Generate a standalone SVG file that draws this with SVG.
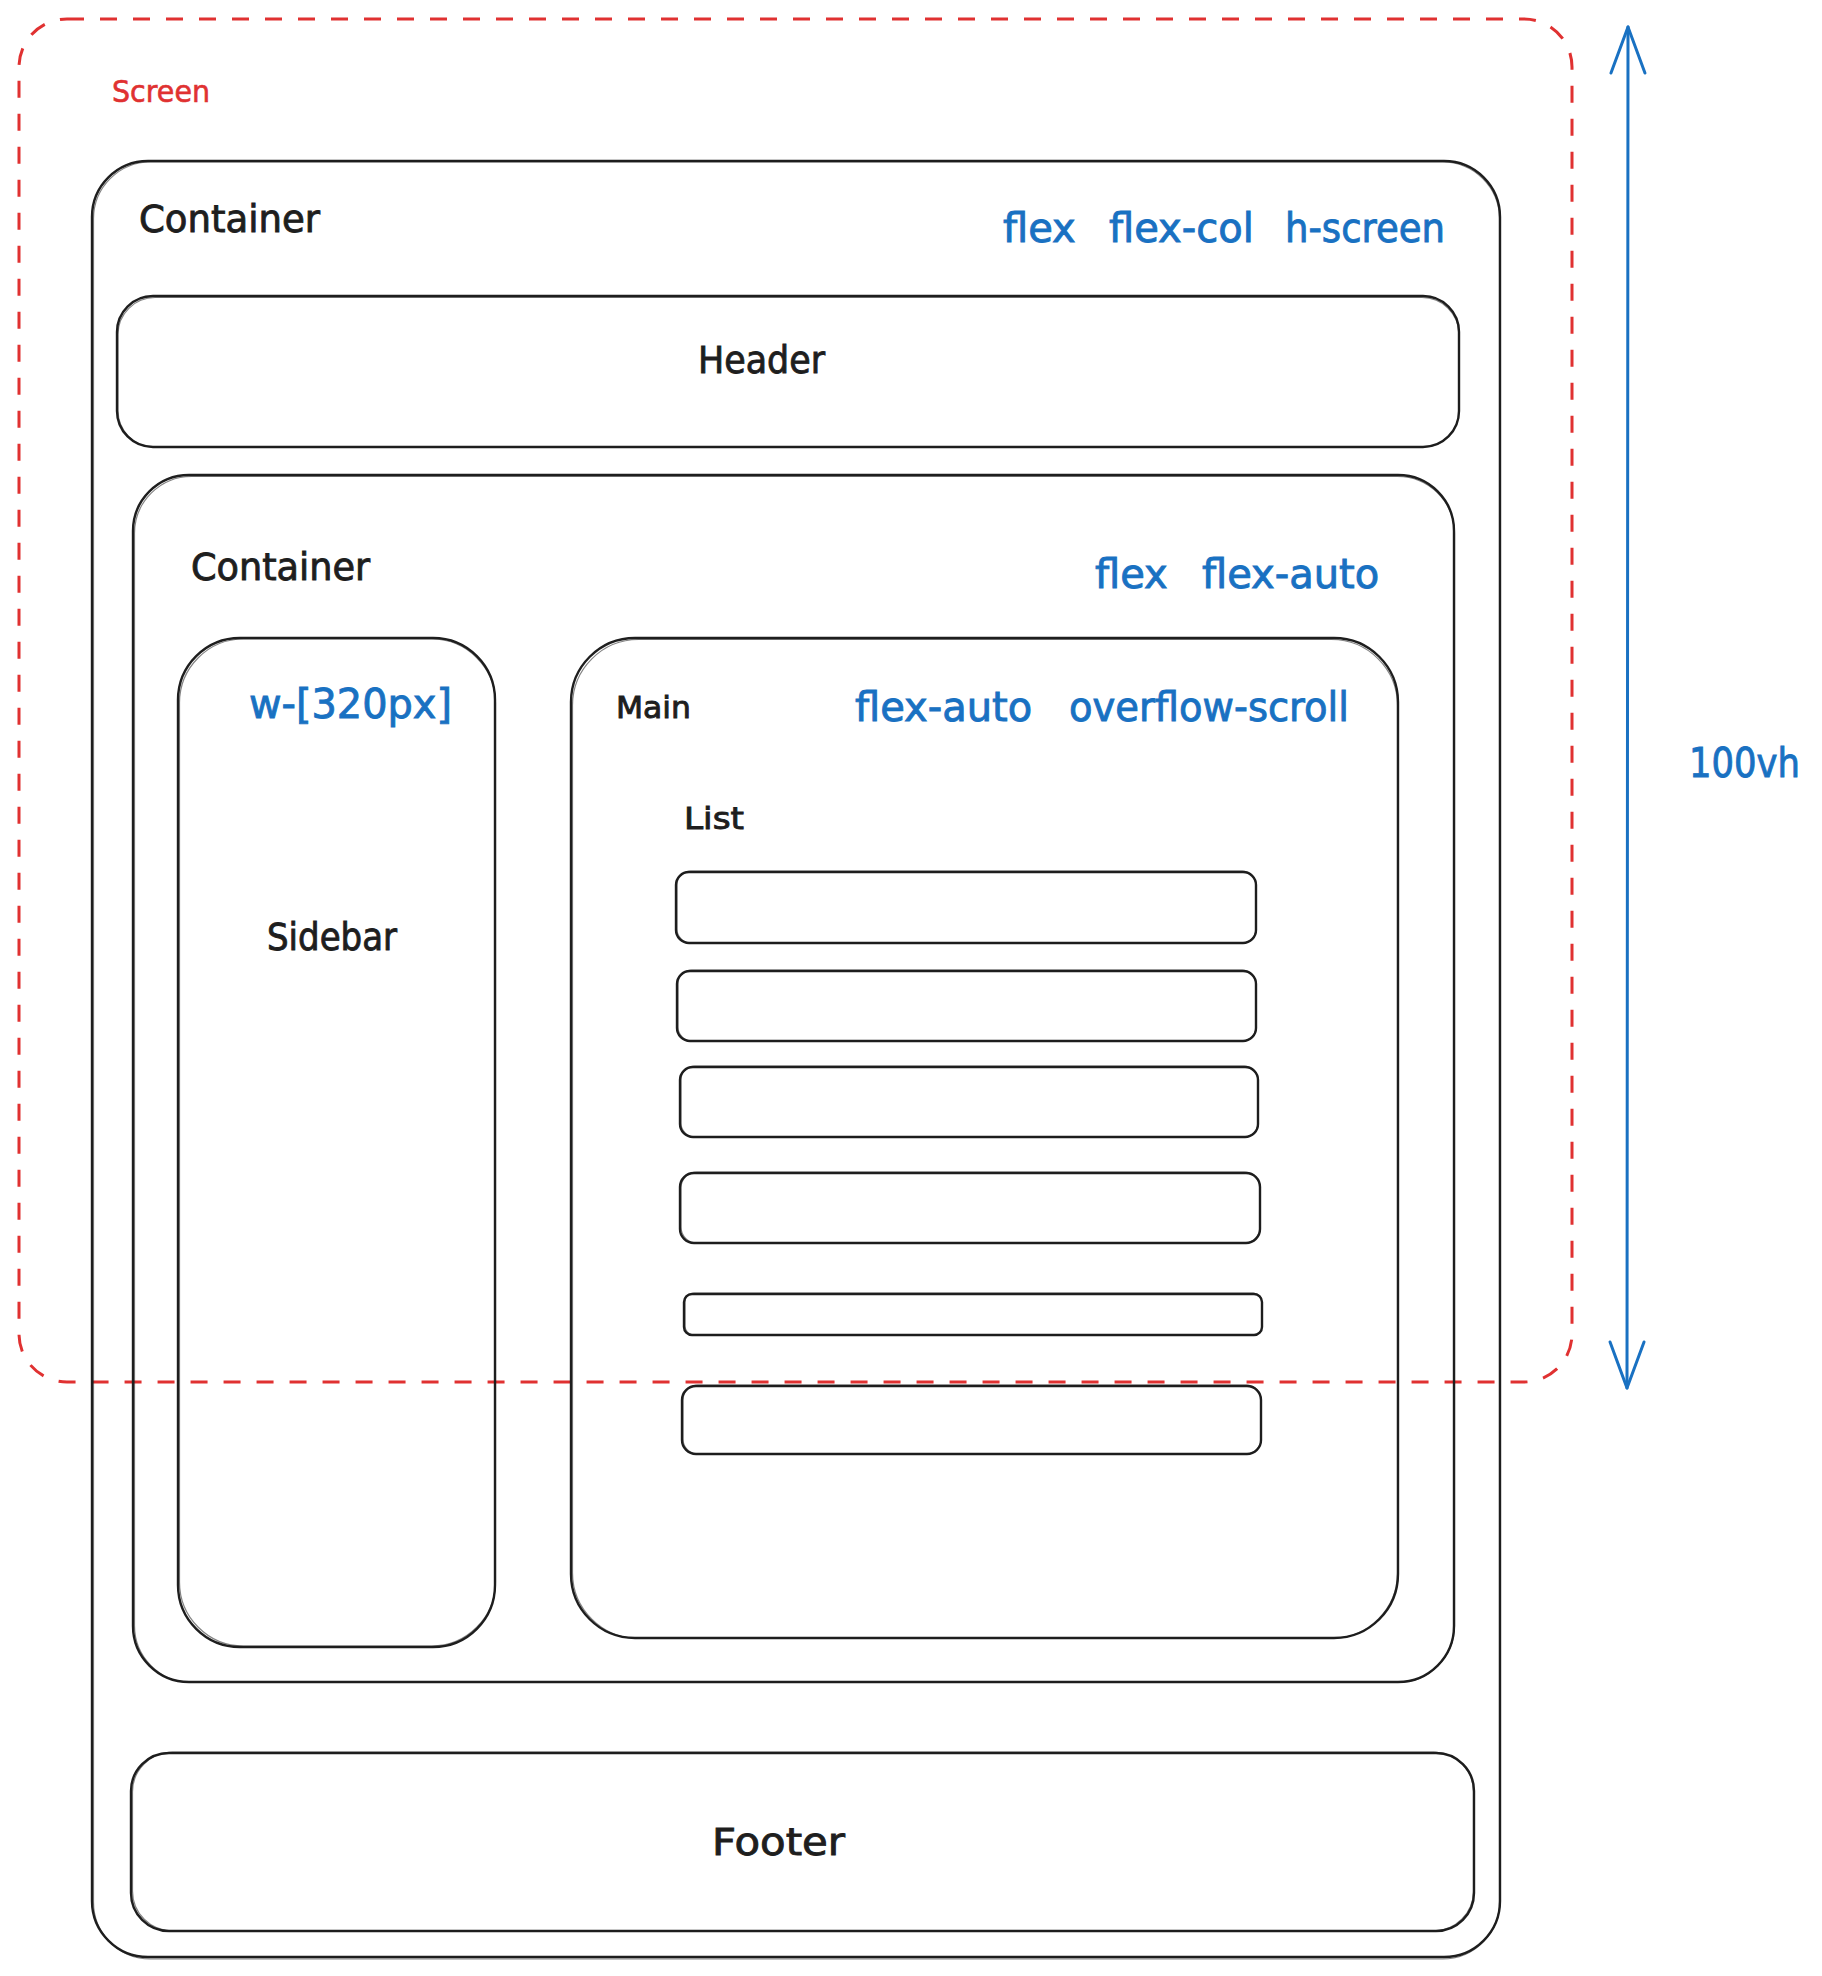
<svg xmlns="http://www.w3.org/2000/svg" width="1822" height="1976" viewBox="0 0 1822 1976">
  <style>
    .box { fill: none; stroke: #1e1e1e; stroke-width: 2.4; stroke-linejoin: round; }
    .box2 { fill: none; stroke: #1e1e1e; stroke-width: 1.2; opacity: 0.55; }
    .screen { fill: none; stroke: #e03131; stroke-width: 3; stroke-dasharray: 17 16; }
    .lbl { font-family: "DejaVu Sans", "Liberation Sans", sans-serif; fill: #1e1e1e; stroke: #1e1e1e; stroke-width: 0.9; }
    .big { font-size: 37px; }
    .small { font-size: 30px; }
    .blue { font-family: "DejaVu Sans", "Liberation Sans", sans-serif; fill: #1971c2; stroke: #1971c2; stroke-width: 0.9; font-size: 40px; }
    .red { font-family: "DejaVu Sans", "Liberation Sans", sans-serif; fill: #e03131; stroke: #e03131; stroke-width: 0.6; font-size: 30px; }
    .arrow { fill: none; stroke: #1971c2; stroke-width: 3; stroke-linecap: round; stroke-linejoin: round; }
  </style>
  <defs>
    <marker id="chev" markerUnits="userSpaceOnUse" markerWidth="60" markerHeight="60" refX="0" refY="0" orient="auto-start-reverse" overflow="visible">
      <path d="M-46,-17 L0,0 L-46,17" fill="none" stroke="#1971c2" stroke-width="3" stroke-linecap="round" stroke-linejoin="round"/>
    </marker>
  </defs>
  <rect width="1822" height="1976" fill="#ffffff"/>

  <g id="screen">
    <rect class="screen" x="19" y="19" width="1553" height="1363" rx="48"/>
    <text class="red" x="112" y="102" textLength="98" lengthAdjust="spacingAndGlyphs">Screen</text>
  </g>

  <g id="container-outer">
    <rect class="box" x="92" y="161" width="1408" height="1796" rx="56"/>
    <rect class="box2" x="93.5" y="162" width="1406" height="1797" rx="57"/>
    <text class="lbl big" x="139" y="232" textLength="181" lengthAdjust="spacingAndGlyphs">Container</text>
    <text class="blue" y="242"><tspan x="1003">flex</tspan><tspan x="1109">flex-col</tspan><tspan x="1285" textLength="160" lengthAdjust="spacingAndGlyphs">h-screen</tspan></text>
  </g>

  <g id="header">
    <rect class="box" x="117" y="296" width="1342" height="151" rx="36"/>
    <rect class="box2" x="118" y="297.5" width="1341" height="150" rx="37"/>
    <text class="lbl big" x="698" y="373" textLength="127" lengthAdjust="spacingAndGlyphs">Header</text>
  </g>

  <g id="container-inner">
    <rect class="box" x="133" y="475" width="1321" height="1207" rx="56"/>
    <rect class="box2" x="134.5" y="476.5" width="1320" height="1206" rx="57"/>
    <text class="lbl big" x="191" y="580" textLength="179" lengthAdjust="spacingAndGlyphs">Container</text>
    <text class="blue" y="588"><tspan x="1095">flex</tspan><tspan x="1202">flex-auto</tspan></text>
  </g>

  <g id="sidebar">
    <rect class="box" x="178" y="638" width="317" height="1009" rx="62"/>
    <rect class="box2" x="179.5" y="639" width="316" height="1007" rx="64"/>
    <text class="blue" x="249" y="718" textLength="203" lengthAdjust="spacingAndGlyphs">w-[320px]</text>
    <text class="lbl big" x="267" y="950" textLength="130" lengthAdjust="spacingAndGlyphs">Sidebar</text>
  </g>

  <g id="main">
    <rect class="box" x="571" y="638" width="827" height="1000" rx="64"/>
    <rect class="box2" x="572.5" y="639.5" width="825" height="999" rx="66"/>
    <text class="lbl small" x="616" y="718" textLength="75" lengthAdjust="spacingAndGlyphs">Main</text>
    <text class="blue" y="721"><tspan x="855">flex-auto</tspan><tspan x="1069" textLength="280" lengthAdjust="spacingAndGlyphs">overflow-scroll</tspan></text>
  </g>

  <g id="list">
    <text class="lbl small" x="684" y="829" textLength="60" lengthAdjust="spacingAndGlyphs">List</text>
    <g id="list-item-1">
      <rect class="box" x="676" y="872" width="580" height="71" rx="13"/>
      <rect class="box2" x="677" y="871" width="579" height="72" rx="14"/>
    </g>
    <g id="list-item-2">
      <rect class="box" x="677" y="971" width="579" height="70" rx="13"/>
      <rect class="box2" x="678" y="970" width="578" height="71" rx="14"/>
    </g>
    <g id="list-item-3">
      <rect class="box" x="680" y="1067" width="578" height="70" rx="13"/>
      <rect class="box2" x="681" y="1066" width="577" height="71" rx="14"/>
    </g>
    <g id="list-item-4">
      <rect class="box" x="680" y="1173" width="580" height="70" rx="14"/>
      <rect class="box2" x="681" y="1172" width="579" height="71" rx="16"/>
    </g>
    <g id="list-item-5">
      <rect class="box" x="684" y="1294" width="578" height="41" rx="8"/>
      <rect class="box2" x="685" y="1293" width="577" height="42" rx="9"/>
    </g>
    <g id="list-item-6">
      <rect class="box" x="682" y="1386" width="579" height="68" rx="14"/>
      <rect class="box2" x="683" y="1385" width="578" height="69" rx="15"/>
    </g>
  </g>

  <g id="footer">
    <rect class="box" x="131" y="1753" width="1343" height="178" rx="38"/>
    <rect class="box2" x="132.5" y="1752" width="1341" height="179" rx="40"/>
    <text class="lbl big" x="712" y="1855" textLength="133" lengthAdjust="spacingAndGlyphs">Footer</text>
  </g>

  <g id="connectors">
    <path class="arrow" d="M1628,27 L1627,1388" marker-start="url(#chev)" marker-end="url(#chev)"/>
    <text class="blue" x="1689" y="777" textLength="111" lengthAdjust="spacingAndGlyphs">100vh</text>
  </g>
</svg>
